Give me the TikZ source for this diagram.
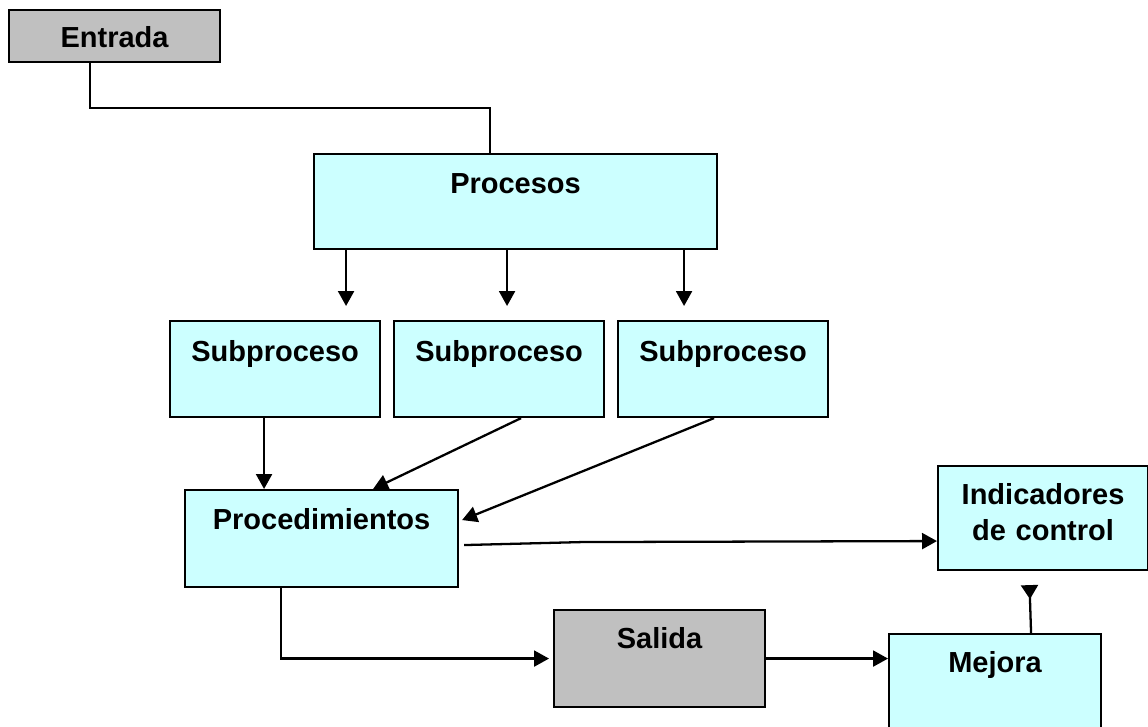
\documentclass[tikz,border=0pt]{standalone}
\usepackage{fontspec}
\setmainfont{Liberation Sans}
\usetikzlibrary{arrows.meta}

\definecolor{celeste}{HTML}{CCFFFF}
\definecolor{gris}{HTML}{C0C0C0}

\tikzset{
  caja/.style = {draw, line width = 1.2pt, fill = celeste, inner sep = 0pt, align = center,
                 anchor = north west, font = \bfseries\fontsize{16.5}{21}\selectfont},
  flecha/.style = {line width = 1.3pt, -{Triangle[length = 0.3cm, width = 0.32cm]}}
}

\begin{document}
\begin{tikzpicture}
\useasboundingbox (0,0) rectangle (22.96,-14.52);

\node [caja, fill = gris, text width = 4.22cm, text height = 0.75cm, text depth = 0.29cm] (v1) at (0.16,-0.18) {Entrada};
\node [caja, text width = 8.06cm, text height = 0.78cm, text depth = 1.12cm] (v2) at (6.26,-3.06) {Procesos};

\node [caja, text width = 4.2cm, text height = 0.8cm, text depth = 1.12cm] (v3) at (3.38,-6.40) {Subproceso};
\node [caja, text width = 4.2cm, text height = 0.8cm, text depth = 1.12cm] (v4) at (7.86,-6.40) {Subproceso};
\node [caja, text width = 4.2cm, text height = 0.8cm, text depth = 1.12cm] (v5) at (12.34,-6.40) {Subproceso};

\node [caja, text width = 5.46cm, text height = 0.78cm, text depth = 1.16cm] (v6) at (3.68,-9.78) {Procedimientos};
\node [caja, text width = 4.2cm, text height = 0.76cm, text depth = 1.32cm] (v7) at (18.74,-9.30) {Indicadores\\de control};

\node [caja, fill = gris, text width = 4.22cm, text height = 0.76cm, text depth = 1.18cm] (v8) at (11.06,-12.18) {Salida};
\node [caja, text width = 4.24cm, text height = 0.76cm, text depth = 1.6cm] (v9) at (17.76,-12.66) {Mejora};

\draw [line width = 1.3pt] ([xshift=-0.49cm]v1.south) -- ++(0,-0.9) -| ([xshift=-0.51cm]v2.north);

\coordinate (a1) at ([xshift=-3.39cm]v2.south);
\coordinate (a2) at ([xshift=-0.17cm]v2.south);
\coordinate (a3) at ([xshift=3.37cm]v2.south);
\draw [flecha, shorten >= 0.28cm] (a1) -- (a1 |- v3.north);
\draw [flecha, shorten >= 0.28cm] (a2) -- (a2 |- v4.north);
\draw [flecha, shorten >= 0.28cm] (a3) -- (a3 |- v5.north);

\coordinate (a4) at ([xshift=-0.22cm]v3.south);
\draw [flecha] (a4) -- (a4 |- v6.north);
\draw [flecha] ([xshift=0.44cm]v4.south) -- ([xshift=1.03cm]v6.north);
\draw [flecha] ([xshift=-0.18cm]v5.south) -- ([xshift=0.06cm, yshift=0.37cm]v6.east);

\draw [flecha] ([xshift=0.1cm, yshift=-0.13cm]v6.east) -- ++(2.36,0.06) -- ([yshift=-0.46cm]v7.west);
\draw [flecha, shorten >= 0.08cm] ([xshift=-0.81cm]v6.south) |- (v8.west);
\draw [flecha] (v8.east) -- (v8.east -| v9.west);
\draw [line width = 1.3pt, -{Triangle[reversed, length = 0.28cm, width = 0.34cm]}, shorten >= 0.28cm] ([xshift=0.72cm]v9.north) -- ([xshift=-0.28cm]v7.south);
\end{tikzpicture}
\end{document}
